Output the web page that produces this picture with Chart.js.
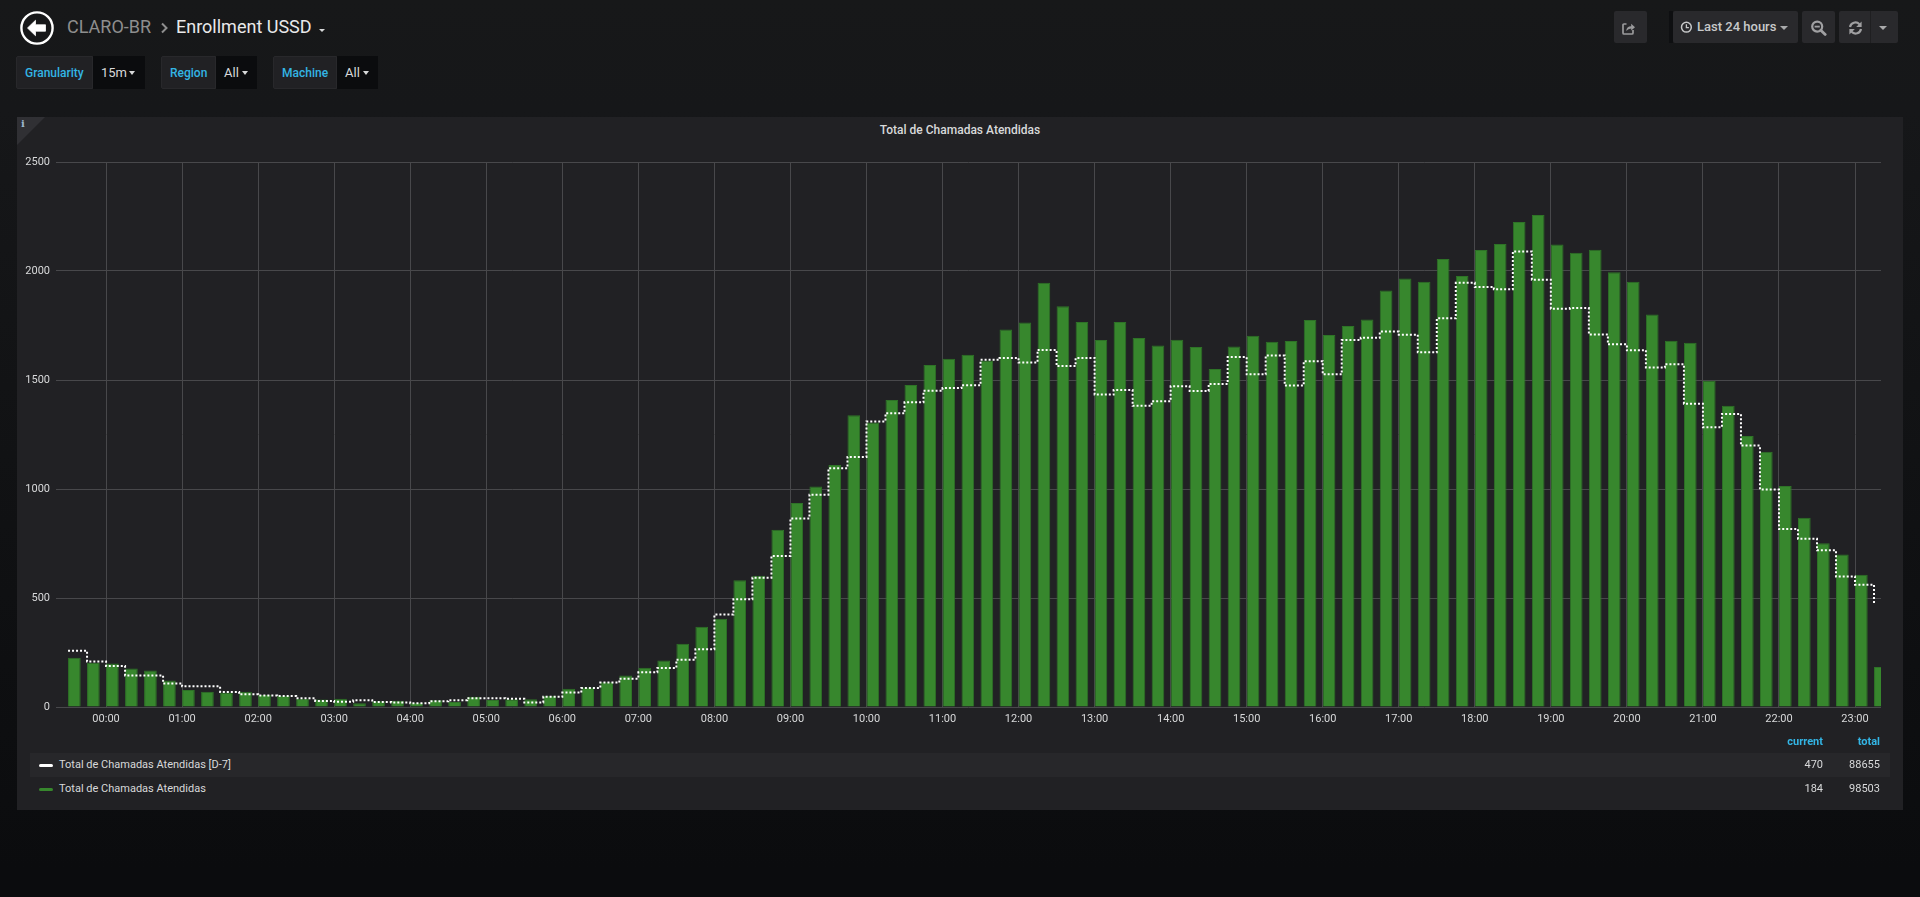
<!DOCTYPE html>
<html>
<head>
<meta charset="utf-8">
<script src="https://cdn.jsdelivr.net/npm/chart.js@4.4.1/dist/chart.umd.min.js"></script>
<style>
html,body{margin:0;padding:0;width:1920px;height:897px;overflow:hidden;}
body{position:relative;background:linear-gradient(180deg,#171819 0px,#161719 110px,#0b0c0e 870px);font-family:Roboto,"Noto Sans",sans-serif;color:#d8d9da;}
.a{position:absolute;}
.crumb{font-size:18px;line-height:20px;top:17px;white-space:nowrap;}
.lbl{top:56px;height:33px;line-height:33px;background:#212124;border:1px solid #28282b;box-sizing:border-box;color:#33b5e5;font-size:12px;font-weight:500;padding-left:8px;border-radius:2px 0 0 2px;}
.val{top:56px;height:33px;line-height:33px;background:#0b0c0e;box-sizing:border-box;color:#d8d9da;font-size:13px;padding-left:8px;}
.caret{width:0;height:0;border-left:3px solid transparent;border-right:3px solid transparent;border-top:4px solid #d8d9da;}
.btn{top:11px;height:32px;background:#29292c;border-radius:2px;}
.lg{font-size:11px;line-height:14px;white-space:nowrap;}
</style>
</head>
<body>
<!-- header -->
<svg class="a" style="left:20px;top:10.5px" width="34" height="34" viewBox="0 0 34 34">
  <circle cx="17" cy="17" r="15.6" stroke="#ffffff" stroke-width="2.4" fill="none"/>
  <path d="M7.5 17 L15.5 9.3 L15.5 13.8 L25.5 13.8 L25.5 20.2 L15.5 20.2 L15.5 24.7 Z" fill="#ffffff" stroke="#ffffff" stroke-width="0.8" stroke-linejoin="round"/>
</svg>
<div class="a crumb" style="left:67px;color:#8e8e8e;">CLARO-BR</div>
<svg class="a" style="left:159px;top:21px" width="10" height="14" viewBox="0 0 10 14"><polyline points="3,2.5 7.5,7 3,11.5" stroke="#8e8e8e" stroke-width="2" fill="none"/></svg>
<div class="a crumb" style="left:176px;color:#e9e9ea;">Enrollment USSD</div>
<div class="a caret" style="left:319px;top:29px;border-top-width:3px;"></div>

<!-- variables -->
<div class="a lbl" style="left:16px;width:77px;">Granularity</div>
<div class="a val" style="left:93px;width:52px;">15m</div>
<div class="a caret" style="left:129px;top:71px;"></div>
<div class="a lbl" style="left:161px;width:55px;">Region</div>
<div class="a val" style="left:216px;width:41px;">All</div>
<div class="a caret" style="left:242px;top:71px;"></div>
<div class="a lbl" style="left:273px;width:64px;">Machine</div>
<div class="a val" style="left:337px;width:41px;">All</div>
<div class="a caret" style="left:363px;top:71px;"></div>

<!-- right buttons -->
<div class="a btn" style="left:1614px;width:33px;"></div>
<svg class="a" style="left:1621px;top:21px" width="15" height="15" viewBox="0 0 15 15">
  <path d="M5.5 3 H3 Q2 3 2 4 V12 Q2 13 3 13 H11 Q12 13 12 12 V9" stroke="#9a9a9c" stroke-width="1.7" fill="none"/>
  <path d="M5.2 10 Q5.5 5.2 10.2 5.2 V2.8 L14 6.2 L10.2 9.6 V7.4 Q7.2 7.4 5.2 10 Z" fill="#9a9a9c"/>
</svg>
<div class="a" style="left:1669px;top:11px;width:4px;height:32px;background:#0e0f11;"></div>
<div class="a btn" style="left:1673px;width:125px;"></div>
<svg class="a" style="left:1680px;top:21px" width="13" height="13" viewBox="0 0 13 13">
  <circle cx="6.4" cy="6.2" r="4.9" stroke="#c8c9ca" stroke-width="1.5" fill="none"/>
  <path d="M6.4 3.2 V6.6 H8.9" stroke="#c8c9ca" stroke-width="1.3" fill="none"/>
</svg>
<div class="a" style="left:1697px;top:19px;font-size:13px;line-height:16px;font-weight:500;color:#c8c9ca;white-space:nowrap;">Last 24 hours</div>
<div class="a caret" style="left:1780px;top:25.5px;border-left-width:4px;border-right-width:4px;border-top-color:#a9aaab;"></div>
<div class="a btn" style="left:1802px;width:33px;"></div>
<svg class="a" style="left:1810px;top:20px" width="18" height="16" viewBox="0 0 18 16">
  <circle cx="7.2" cy="6.6" r="5" stroke="#a0a0a2" stroke-width="2.2" fill="none"/>
  <path d="M10.8 10.2 L15.2 14.4" stroke="#a0a0a2" stroke-width="2.8" stroke-linecap="round"/>
  <path d="M4.6 6.6 H9.8" stroke="#a0a0a2" stroke-width="1.8"/>
</svg>
<div class="a btn" style="left:1839px;width:59px;"></div>
<div class="a" style="left:1870px;top:11px;width:1px;height:32px;background:#1f1f21;"></div>
<svg class="a" style="left:1847px;top:20px" width="17" height="16" viewBox="0 0 17 16">
  <path d="M3 7 A5.5 5.5 0 0 1 12.4 4.2" stroke="#a0a0a2" stroke-width="2.2" fill="none"/>
  <path d="M14.6 1.6 V7 H9.2 Z" fill="#a0a0a2"/>
  <path d="M14 9 A5.5 5.5 0 0 1 4.6 11.8" stroke="#a0a0a2" stroke-width="2.2" fill="none"/>
  <path d="M2.4 14.4 V9 H7.8 Z" fill="#a0a0a2"/>
</svg>
<div class="a caret" style="left:1879px;top:26px;border-left-width:4px;border-right-width:4px;border-top-color:#a9aaab;"></div>

<!-- panel -->
<div class="a" style="left:17px;top:117px;width:1886px;height:693px;background:#212124;"></div>
<svg class="a" style="left:17px;top:117px" width="30" height="30"><polygon points="0,0 28,0 0,28" fill="#303034"/></svg>
<div class="a" style="left:21px;top:118px;font-family:'DejaVu Serif',serif;font-weight:bold;font-size:10px;line-height:12px;color:#9fb8d0;">i</div>
<div class="a" style="left:17px;width:1886px;top:122px;text-align:center;font-size:12px;line-height:16px;font-weight:500;color:#d8d9da;">Total de Chamadas Atendidas</div>

<canvas id="c" class="a" style="left:17px;top:140px;width:1886px;height:600px;" width="1886" height="600"></canvas>

<!-- legend -->
<div class="a lg" style="left:1723px;width:100px;top:735px;text-align:right;color:#33b5e5;font-weight:bold;">current</div>
<div class="a lg" style="left:1780px;width:100px;top:735px;text-align:right;color:#33b5e5;font-weight:bold;">total</div>
<div class="a" style="left:29.5px;top:752.7px;width:1860.5px;height:24px;background:#27272a;"></div>
<div id="legendRows"></div>

<script>
// ---------- data ----------
const slotTimes = [
 '23:30','23:45',
 '00:00','00:15','00:30','00:45','01:00','01:15','01:30','01:45',
 '02:00','02:15','02:30','02:45','03:00','03:15','03:30','03:45',
 '04:00','04:15','04:30','04:45','05:00','05:15','05:30','05:45',
 '06:00','06:15','06:30','06:45','07:00','07:15','07:30','07:45',
 '08:00','08:15','08:30','08:45','09:00','09:15','09:30','09:45',
 '10:00','10:15','10:30','10:45','11:00','11:15','11:30','11:45',
 '12:00','12:15','12:30','12:45','13:00','13:15','13:30','13:45',
 '14:00','14:15','14:30','14:45','15:00','15:15','15:30','15:45',
 '16:00','16:15','16:30','16:45','17:00','17:15','17:30','17:45',
 '18:00','18:15','18:30','18:45','19:00','19:15','19:30','19:45',
 '20:00','20:15','20:30','20:45','21:00','21:15','21:30','21:45',
 '22:00','22:15','22:30','22:45','23:00','23:15'
];

const currentValues = [
 226,203,
 199,177,167,122,78,70,66,70,
 55,52,38,34,38,17,26,29,
 20,31,23,47,32,35,35,52,
 84,90,113,144,180,213,290,368,
 405,581,602,813,936,1011,1110,1338,
 1305,1408,1477,1569,1598,1616,1590,1732,
 1764,1946,1838,1766,1683,1766,1693,1658,
 1685,1651,1550,1654,1703,1676,1679,1775,
 1706,1748,1778,1910,1966,1951,2055,1977,
 2096,2124,2225,2257,2122,2084,2097,1994,
 1951,1800,1680,1671,1497,1382,1243,1171,
 1014,868,751,699,607,184
];

const d7Values = [
 258,209,
 188,145,145,108,95,95,69,58,
 53,50,40,28,24,31,23,21,
 17,26,31,40,40,38,21,47,
 66,87,112,130,159,179,217,265,
 424,494,593,693,865,974,1095,1147,
 1310,1347,1398,1451,1463,1476,1593,1601,
 1580,1638,1564,1601,1433,1454,1382,1402,
 1471,1450,1482,1605,1526,1612,1475,1586,
 1526,1683,1694,1722,1708,1627,1783,1946,
 1927,1916,2090,1960,1827,1830,1709,1664,
 1636,1557,1572,1391,1283,1344,1199,998,
 817,772,719,599,561,470
];

const hourTicks = ['00:00','01:00','02:00','03:00','04:00','05:00','06:00','07:00',
 '08:00','09:00','10:00','11:00','12:00','13:00','14:00','15:00',
 '16:00','17:00','18:00','19:00','20:00','21:00','22:00','23:00'];

const yTicks = [0, 500, 1000, 1500, 2000, 2500];

const seriesNames = ['Total de Chamadas Atendidas [D-7]', 'Total de Chamadas Atendidas'];
const legendCurrent = ['470', '184'];
const legendTotal = ['88655', '98503'];

// time range shown: last 24 hours, 23:20:30 (previous day) -> 23:20:30, in minutes from midnight
const rangeStartMin = -39.5;
const rangeEndMin = 1400.5;
const slotLengthMin = 15;

// ---------- helpers ----------
function toMin(s){ const p = s.split(':'); return (+p[0]) * 60 + (+p[1]); }
const slotMins = [];
(function(){
  let dayOffset = -1440, prev = -1;
  slotTimes.forEach(s => {
    const m = toMin(s);
    if (prev >= 0 && m < prev) dayOffset = 0;
    prev = m;
    slotMins.push(m + dayOffset);
  });
})();
const tickMins = hourTicks.map(toMin);

const GRID = '#48484b';
const TEXT = '#d8d9da';
const GREEN = '#37872d';
const barFrac = 2 / 3;              // bar occupies 2/3 of a 15-min slot, left-aligned at slot start
const barShift = slotLengthMin * barFrac / 2;

Chart.defaults.font.family = 'Roboto, "Noto Sans", sans-serif';

new Chart(document.getElementById('c'), {
  type: 'line',
  data: {
    datasets: [
      {
        type: 'line',
        label: seriesNames[0],
        data: slotMins.map((t, i) => ({ x: t, y: d7Values[i] })),
        stepped: true,
        borderColor: '#ffffff',
        borderWidth: 2,
        borderDash: [2, 2],
        pointRadius: 0,
        fill: false,
        order: 0
      },
      {
        type: 'bar',
        label: seriesNames[1],
        data: slotMins.map((t, i) => ({ x: t + barShift, y: currentValues[i] })),
        backgroundColor: GREEN,
        borderColor: '#2e7327',
        borderWidth: { top: 1, left: 1, right: 1, bottom: 0 },
        barPercentage: barFrac,
        categoryPercentage: 1,
        clip: 0,
        order: 1
      }
    ]
  },
  options: {
    responsive: false,
    animation: false,
    devicePixelRatio: 1,
    layout: { padding: { left: 0, right: 22, top: 22, bottom: 0 } },
    plugins: { legend: { display: false }, tooltip: { enabled: false } },
    scales: {
      x: {
        type: 'linear',
        min: rangeStartMin,
        max: rangeEndMin,
        bounds: 'data',
        offset: false,
        afterFit: s => { s.height = 33; },
        afterBuildTicks: s => { s.ticks = tickMins.map(v => ({ value: v })); },
        ticks: {
          autoSkip: false, maxRotation: 0, padding: 6, color: TEXT,
          font: { size: 11 },
          callback: (v, i) => hourTicks[i]
        },
        grid: { color: GRID, drawTicks: false, offset: false, lineWidth: 1 },
        border: { display: false }
      },
      y: {
        min: yTicks[0],
        max: yTicks[yTicks.length - 1],
        afterFit: s => { s.width = 39; },
        afterBuildTicks: s => { s.ticks = yTicks.map(v => ({ value: v })); },
        ticks: { padding: 6, color: TEXT, font: { size: 11 }, callback: v => String(v) },
        grid: { color: GRID, drawTicks: false, lineWidth: 1 },
        border: { display: false }
      }
    }
  }
});

// ---------- legend (html table like) ----------
(function(){
  const host = document.getElementById('legendRows');
  const rows = [
    { y: 764.5, color: '#ffffff' },
    { y: 788.5, color: GREEN }
  ];
  rows.forEach((r, i) => {
    host.insertAdjacentHTML('beforeend',
      `<div class="a" style="left:39px;top:${r.y - 1}px;width:14px;height:3.4px;border-radius:1.5px;background:${r.color};"></div>` +
      `<div class="a lg" style="left:59px;top:${r.y - 7}px;color:${TEXT};">${seriesNames[i]}</div>` +
      `<div class="a lg" style="left:1723px;width:100px;text-align:right;top:${r.y - 7}px;color:${TEXT};">${legendCurrent[i]}</div>` +
      `<div class="a lg" style="left:1780px;width:100px;text-align:right;top:${r.y - 7}px;color:${TEXT};">${legendTotal[i]}</div>`);
  });
})();
</script>
</body>
</html>
